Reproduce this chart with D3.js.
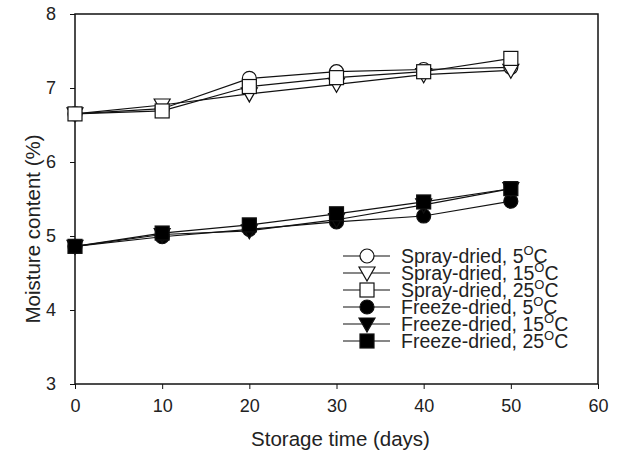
<!DOCTYPE html>
<html>
<head>
<meta charset="utf-8">
<script src="https://cdn.jsdelivr.net/npm/d3@7"></script>
<style>
  body { margin: 0; background: #fff; }
  svg { font-family: Arial, "Liberation Sans", sans-serif; }
</style>
</head>
<body>
<script>
// dimensions
const width = 623;
const height = 461;
const margin = { top: 14, right: 25, bottom: 77, left: 75 };

// data
const days = [0, 10, 20, 30, 40, 50];
const spray5 = [6.65, 6.72, 7.13, 7.22, 7.25, 7.28];
const spray15 = [6.65, 6.77, 6.92, 7.05, 7.18, 7.24];
const spray25 = [6.65, 6.69, 7.02, 7.14, 7.22, 7.40];
const freeze5 = [4.86, 4.99, 5.09, 5.19, 5.27, 5.47];
const freeze15 = [4.86, 5.02, 5.07, 5.22, 5.42, 5.64];
const freeze25 = [4.86, 5.04, 5.15, 5.30, 5.46, 5.64];
const xTicks = [0, 10, 20, 30, 40, 50, 60];
const yTicks = [3, 4, 5, 6, 7, 8];

const series = [
  { label: 'Spray-dried, 5', values: spray5, shape: 'circle', fill: '#fff' },
  { label: 'Spray-dried, 15', values: spray15, shape: 'triangle', fill: '#fff' },
  { label: 'Spray-dried, 25', values: spray25, shape: 'square', fill: '#fff' },
  { label: 'Freeze-dried, 5', values: freeze5, shape: 'circle', fill: '#000' },
  { label: 'Freeze-dried, 15', values: freeze15, shape: 'triangle', fill: '#000' },
  { label: 'Freeze-dried, 25', values: freeze25, shape: 'square', fill: '#000' }
];

const svg = d3.select('body')
  .append('svg')
  .attr('width', width)
  .attr('height', height);

const x = d3.scaleLinear()
  .domain([0, 60])
  .range([margin.left, width - margin.right]);

const y = d3.scaleLinear()
  .domain([3, 8])
  .range([height - margin.bottom, margin.top]);

// markers
function marker(g, shape, fill) {
  if (shape === 'circle') {
    g.append('circle').attr('r', 7);
  } else if (shape === 'square') {
    g.append('rect').attr('x', -7).attr('y', -7).attr('width', 14).attr('height', 14);
  } else {
    g.append('path').attr('d', 'M-8,-6L8,-6L0,8Z');
  }
  g.selectAll('*')
    .attr('fill', fill)
    .attr('stroke', '#111')
    .attr('stroke-width', 1.2);
}

// frame
svg.append('rect')
  .attr('x', x(0))
  .attr('y', y(8))
  .attr('width', x(60) - x(0))
  .attr('height', y(3) - y(8))
  .attr('fill', 'none')
  .attr('stroke', '#111')
  .attr('stroke-width', 1.5);

// x axis
svg.append('g')
  .attr('transform', `translate(0, ${y(3)})`)
  .call(d3.axisBottom(x).tickValues(xTicks).tickSize(5).tickPadding(10).tickFormat(d3.format('d')))
  .call(g => g.select('.domain').remove())
  .call(g => g.selectAll('text').attr('font-size', 18).attr('fill', '#222'))
  .call(g => g.selectAll('line').attr('stroke', '#111'));

// y axis
svg.append('g')
  .attr('transform', `translate(${x(0)}, 0)`)
  .call(d3.axisLeft(y).tickValues(yTicks).tickSize(5).tickPadding(14).tickFormat(d3.format('d')))
  .call(g => g.select('.domain').remove())
  .call(g => g.selectAll('text').attr('font-size', 18).attr('fill', '#222'))
  .call(g => g.selectAll('line').attr('stroke', '#111'));

// axis titles
svg.append('text')
  .attr('x', (x(0) + x(60)) / 2 + 4)
  .attr('y', 446)
  .attr('text-anchor', 'middle')
  .attr('font-size', 20.5)
  .attr('fill', '#222')
  .text('Storage time (days)');

svg.append('text')
  .attr('transform', `translate(40, 229) rotate(-90)`)
  .attr('text-anchor', 'middle')
  .attr('font-size', 20.5)
  .attr('fill', '#222')
  .text('Moisture content (%)');

// lines and markers
const line = d3.line()
  .x((d, i) => x(days[i]))
  .y(d => y(d));

const plot = svg.append('g');

series.forEach(s => {
  plot.append('path')
    .attr('d', line(s.values))
    .attr('fill', 'none')
    .attr('stroke', '#111')
    .attr('stroke-width', 1.2);
});

series.forEach(s => {
  s.values.forEach((v, i) => {
    const g = plot.append('g').attr('transform', `translate(${x(days[i])}, ${y(v)})`);
    marker(g, s.shape, s.fill);
  });
});

// legend
const legend = svg.append('g').attr('transform', 'translate(343, 256)');
series.forEach((s, i) => {
  const row = legend.append('g').attr('transform', `translate(0, ${i * 17})`);
  row.append('line')
    .attr('x1', 0).attr('x2', 47)
    .attr('stroke', '#111')
    .attr('stroke-width', 1.2);
  marker(row.append('g').attr('transform', 'translate(24, 0)'), s.shape, s.fill);
  const t = row.append('text')
    .attr('x', 58)
    .attr('y', 7)
    .attr('font-size', 19.5)
    .attr('fill', '#222');
  t.append('tspan').text(s.label);
  t.append('tspan').attr('font-size', 13).attr('dy', -8).text('O');
  t.append('tspan').attr('dy', 8).text('C');
});
</script>
</body>
</html>
